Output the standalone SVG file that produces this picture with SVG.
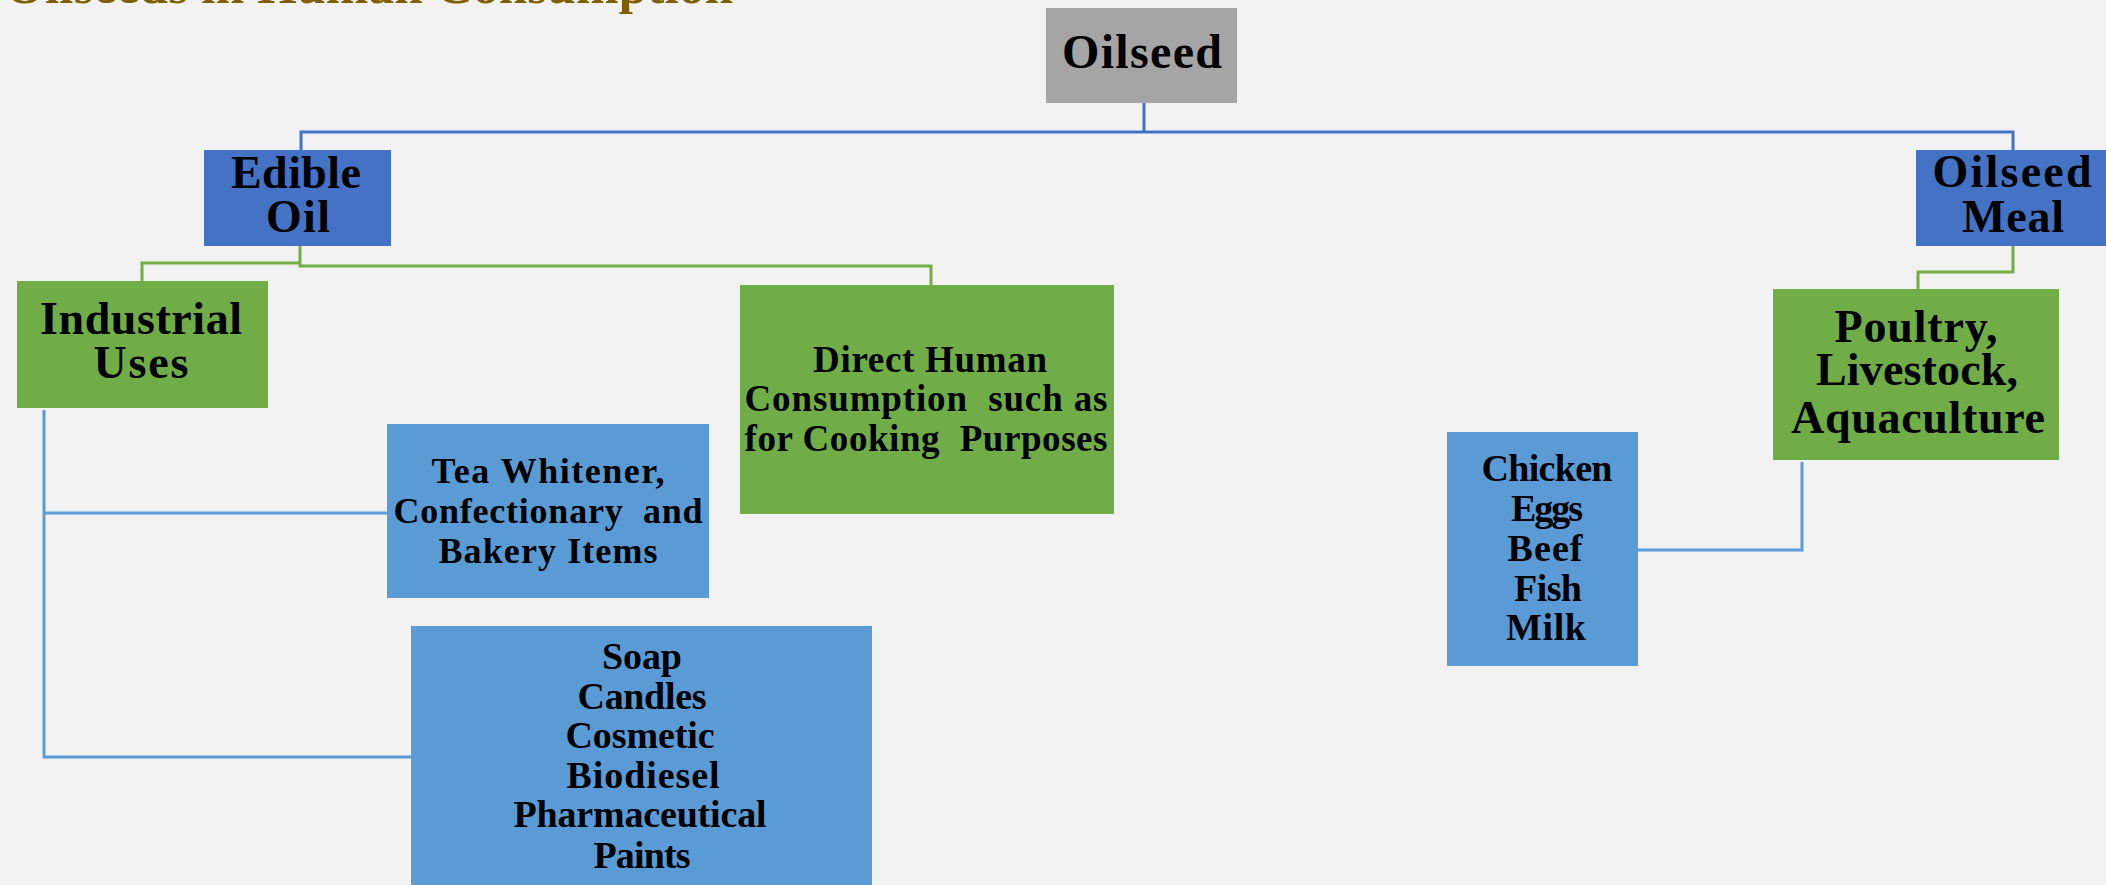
<svg xmlns="http://www.w3.org/2000/svg" width="2106" height="885" viewBox="0 0 2106 885">
<style>
.t{font-family:"Liberation Serif","Times New Roman",serif;font-weight:bold;fill:#000;text-anchor:middle}
.ttl{font-family:"Liberation Serif","Times New Roman",serif;font-weight:bold;fill:#7f6000}
.c{fill:none;stroke-width:3}
.cb{stroke:#4472c4}.cg{stroke:#70ad47}.cl{stroke:#5b9bd5}
</style>
<rect x="0" y="0" width="2106" height="885" fill="#f2f2f2"/>
<text class="ttl" x="5" y="3" font-size="51" textLength="728" lengthAdjust="spacing">Oilseeds in Human Consumption</text>
<g id="connectors">
<path class="c cb" d="M1144,103 V132 M301,150 V132 H2013 V150"/>
<path class="c cg" d="M300,246 V266 H931 V285 M300,263 H142 V281"/>
<path class="c cg" d="M2013,246 V272 H1918 V289"/>
<path class="c cl" d="M44,410 V757 H411 M44,513 H387"/>
<path class="c cl" d="M1802,462 V550 H1638"/>
</g>
<g id="oilseed">
<rect x="1046" y="8" width="191" height="95" fill="#a5a5a5"/>
<text class="t" x="1142" y="68" font-size="48" textLength="160" lengthAdjust="spacing">Oilseed</text>
</g>
<g id="edible-oil">
<rect x="204" y="150" width="187" height="96" fill="#4472c4"/>
<text class="t" x="296" y="188" font-size="46" textLength="130" lengthAdjust="spacing">Edible</text>
<text class="t" x="298" y="232" font-size="46" textLength="64" lengthAdjust="spacing">Oil</text>
</g>
<g id="oilseed-meal">
<rect x="1916" y="150" width="194" height="96" fill="#4472c4"/>
<text class="t" x="2012" y="187" font-size="46" textLength="159" lengthAdjust="spacing">Oilseed</text>
<text class="t" x="2013" y="232" font-size="46" textLength="102" lengthAdjust="spacing">Meal</text>
</g>
<g id="industrial-uses">
<rect x="17" y="281" width="251" height="127" fill="#70ad47"/>
<text class="t" x="141" y="334" font-size="46" textLength="202" lengthAdjust="spacing">Industrial</text>
<text class="t" x="141" y="378" font-size="46" textLength="95" lengthAdjust="spacing">Uses</text>
</g>
<g id="direct-human">
<rect x="740" y="285" width="374" height="229" fill="#70ad47"/>
<text class="t" x="930" y="372" font-size="37" textLength="234" lengthAdjust="spacing">Direct Human</text>
<text class="t" x="926" y="411" font-size="37" textLength="363" lengthAdjust="spacing" xml:space="preserve">Consumption  such as</text>
<text class="t" x="926" y="451" font-size="37" textLength="363" lengthAdjust="spacing" xml:space="preserve">for Cooking  Purposes</text>
</g>
<g id="poultry">
<rect x="1773" y="289" width="286" height="171" fill="#70ad47"/>
<text class="t" x="1916" y="342" font-size="46" textLength="163" lengthAdjust="spacing">Poultry,</text>
<text class="t" x="1917" y="385" font-size="46" textLength="202" lengthAdjust="spacing">Livestock,</text>
<text class="t" x="1918" y="433" font-size="46" textLength="254" lengthAdjust="spacing">Aquaculture</text>
</g>
<g id="tea-whitener">
<rect x="387" y="424" width="322" height="174" fill="#5b9bd5"/>
<text class="t" x="548" y="483" font-size="36" textLength="233" lengthAdjust="spacing">Tea Whitener,</text>
<text class="t" x="548" y="523" font-size="36" textLength="309" lengthAdjust="spacing" xml:space="preserve">Confectionary  and</text>
<text class="t" x="548" y="563" font-size="36" textLength="219" lengthAdjust="spacing">Bakery Items</text>
</g>
<g id="industrial-products">
<rect x="411" y="626" width="461" height="259" fill="#5b9bd5"/>
<text class="t" x="642" y="669" font-size="38" textLength="80" lengthAdjust="spacing">Soap</text>
<text class="t" x="642" y="709" font-size="38" textLength="129" lengthAdjust="spacing">Candles</text>
<text class="t" x="640" y="748" font-size="38" textLength="149" lengthAdjust="spacing">Cosmetic</text>
<text class="t" x="643" y="788" font-size="38" textLength="153" lengthAdjust="spacing">Biodiesel</text>
<text class="t" x="640" y="827" font-size="38" textLength="253" lengthAdjust="spacing">Pharmaceutical</text>
<text class="t" x="642" y="868" font-size="38" textLength="97" lengthAdjust="spacing">Paints</text>
</g>
<g id="animal-products">
<rect x="1447" y="432" width="191" height="234" fill="#5b9bd5"/>
<text class="t" x="1547" y="481" font-size="38" textLength="131" lengthAdjust="spacing">Chicken</text>
<text class="t" x="1547" y="521" font-size="38" textLength="72" lengthAdjust="spacing">Eggs</text>
<text class="t" x="1545" y="561" font-size="38" textLength="75" lengthAdjust="spacing">Beef</text>
<text class="t" x="1548" y="601" font-size="38" textLength="68" lengthAdjust="spacing">Fish</text>
<text class="t" x="1546" y="640" font-size="38" textLength="80" lengthAdjust="spacing">Milk</text>
</g>
</svg>
